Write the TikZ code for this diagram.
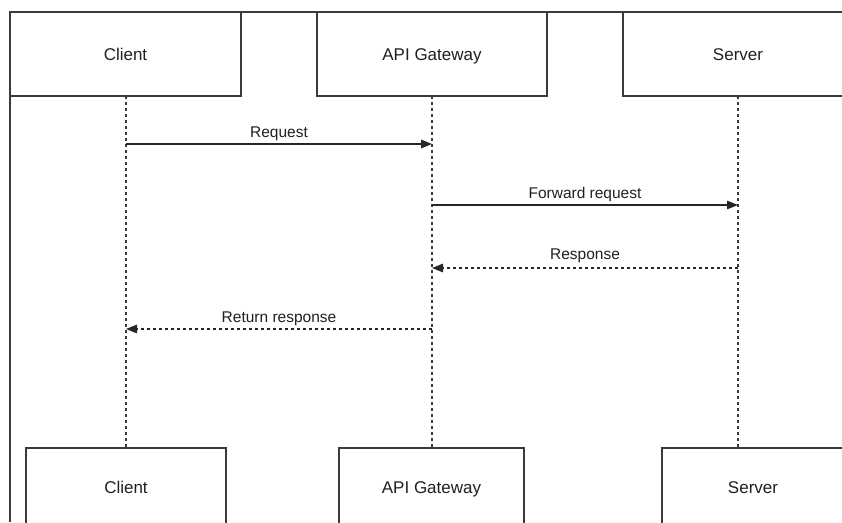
\documentclass[tikz,border=0pt]{standalone}
\usepackage{fontspec}
\setmainfont{Liberation Sans}
\usetikzlibrary{arrows.meta}
\definecolor{boxline}{HTML}{3A3A3A}
\definecolor{txt}{HTML}{202020}
\tikzset{
  actor/.style={draw=boxline, line width=1.6pt, fill=white, inner sep=0pt,
    text height=13pt, text depth=1pt,
    font=\fontsize{17}{20}\selectfont, text=txt},
  lifeline/.style={draw=boxline, line width=1.3pt, dash pattern=on 2.5pt off 3.5pt},
  msg/.style={draw=black!85, line width=1.3pt, -{Triangle[length=11pt,width=8.5pt]}},
  reply/.style={msg, dash pattern=on 3pt off 3pt},
  msglabel/.style={font=\fontsize{15.5}{18}\selectfont, text=txt, anchor=base, inner sep=0pt},
  frame/.style={draw=boxline, line width=1.6pt}
}
\begin{document}
\begin{tikzpicture}[x=1pt, y=-1pt]
\useasboundingbox (0,0) rectangle (842,522);
\clip (0,0) rectangle (842,522);
\fill[white] (0,0) rectangle (842,522);
% top actors
\node[actor, minimum width=231pt, minimum height=84pt] (cT) at (125.5,54) {Client};
\node[actor, minimum width=230pt, minimum height=84pt] (aT) at (432,54) {API Gateway};
\node[actor, minimum width=230pt, minimum height=84pt] (sT) at (738,54) {Server};
% bottom actors
\node[actor, minimum width=200pt, minimum height=78pt] (cB) at (126,487) {Client};
\node[actor, minimum width=185pt, minimum height=78pt] (aB) at (431.5,487) {API Gateway};
\node[actor, minimum width=182pt, minimum height=78pt] (sB) at (753,487) {Server};
% frame lines
\coordinate (fTL) at (10,12);
\coordinate (fTR) at (842,12);
\coordinate (fBL) at (10,522);
\draw[frame] (fTR) -- (fTL) -- (fBL);
% lifelines
\coordinate (lc) at (126,96);
\coordinate (la) at (432,96);
\coordinate (ls) at (738,96);
\draw[lifeline] (lc) -- (lc |- cB.north);
\draw[lifeline] (la) -- (la |- aB.north);
\draw[lifeline] (ls) -- (ls |- sB.north);
% messages
\coordinate (m1a) at (lc |- 0,144); \coordinate (m1b) at (la |- 0,144);
\coordinate (m2a) at (la |- 0,205); \coordinate (m2b) at (ls |- 0,205);
\coordinate (m3a) at (ls |- 0,268); \coordinate (m3b) at (la |- 0,268);
\coordinate (m4a) at (la |- 0,329); \coordinate (m4b) at (lc |- 0,329);
\draw[msg] (m1a) -- node[msglabel, yshift=7pt] (t1) {Request} (m1b);
\draw[msg] (m2a) -- node[msglabel, yshift=7pt] (t2) {Forward request} (m2b);
\draw[reply] (m3a) -- node[msglabel, yshift=9pt] (t3) {Response} (m3b);
\draw[reply] (m4a) -- node[msglabel, yshift=7pt] (t4) {Return response} (m4b);
\end{tikzpicture}
\end{document}
